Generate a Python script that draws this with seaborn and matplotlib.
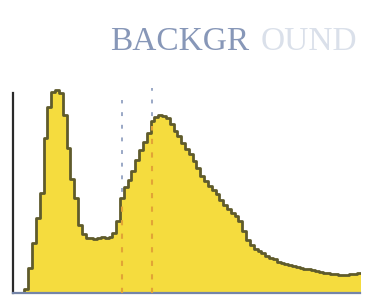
import numpy as np
import pandas as pd
import matplotlib
matplotlib.use("Agg")
import matplotlib.pyplot as plt
import seaborn as sns

# ---- data ----
bin_width = 10  # channels
counts = [0, 0, 0, 4, 25, 50, 75, 100, 155, 186,
          201, 203, 200, 178, 145, 114, 95, 68, 59, 55,
          55, 54, 55, 56, 55, 56, 60, 72, 95, 106,
          113, 122, 133, 143, 151, 160, 172, 176, 178, 177,
          175, 169, 162, 157, 150, 144, 139, 132, 125, 117,
          112, 107, 103, 99, 93, 88, 84, 80, 77, 72,
          62, 53, 48, 44, 42, 40, 37, 35, 34, 31,
          30, 29, 28, 27, 26, 25, 24, 24, 23, 22,
          21, 20, 20, 19, 19, 18, 18, 18, 19, 19,
          20, 20]
gate_lines = [285, 364]          # channel positions of the dashed markers
gate_tops = [193, 205]           # heights where the dashed markers end
xticks = [200, 400, 600, 800]
title_main = "BACKGR"
title_faded = "OUND"

edges = [i * bin_width for i in range(len(counts) + 1)]
centers = [e + bin_width / 2 for e in edges[:-1]]
df = pd.DataFrame({"channel": centers, "count": counts})

sns.set_style("white")
fig = plt.figure(figsize=(3.65, 2.97), dpi=100)
ax = fig.add_axes([13 / 365, 1 - 293 / 297, (360 - 13) / 365, (293 - 88) / 297])

fill_col = "#f5dc3e"
edge_col = "#5f5b2c"

# dashed marker lines (grey part behind, orange part inside fill)
for gx, gt in zip(gate_lines, gate_tops):
    ax.plot([gx, gx], [0, gt], ls=(0, (2, 4.5)), color="#9aa8c6", lw=1.4, zorder=1)

sns.histplot(data=df, x="channel", weights="count", bins=edges, element="step",
             fill=True, color=fill_col, alpha=1.0, edgecolor=edge_col,
             linewidth=2.0, ax=ax, zorder=2)

for gx in gate_lines:
    idx = int(gx // bin_width)
    ax.plot([gx, gx], [0, counts[idx] - 5], ls=(0, (2.5, 4)), color="#e2a436",
            lw=1.5, zorder=3)

ax.set_xlim(0, 908)
ax.set_ylim(0, 205)
ax.set_xticks(xticks)
ax.set_xticklabels([])
ax.set_yticks([])
ax.set_xlabel("")
ax.set_ylabel("")
for s in ["top", "right"]:
    ax.spines[s].set_visible(False)
ax.spines["left"].set_color("#2a2a2a")
ax.spines["left"].set_linewidth(1.6)
ax.spines["left"].set_bounds(0, 200)
ax.spines["bottom"].set_color("#7585a8")
ax.spines["bottom"].set_linewidth(1.6)
ax.tick_params(axis="x", direction="out", length=4, width=1.5, colors="#5a6a90")

fig.text(110 / 365, 1 - 50 / 297, title_main, family=["Liberation Serif"],
         fontsize=24, color="#8797b8", ha="left", va="baseline")
fig.text(261 / 365, 1 - 50 / 297, title_faded, family=["Liberation Serif"],
         fontsize=24, color="#dae0ea", ha="left", va="baseline")

fig.savefig("out.png", dpi=100)
